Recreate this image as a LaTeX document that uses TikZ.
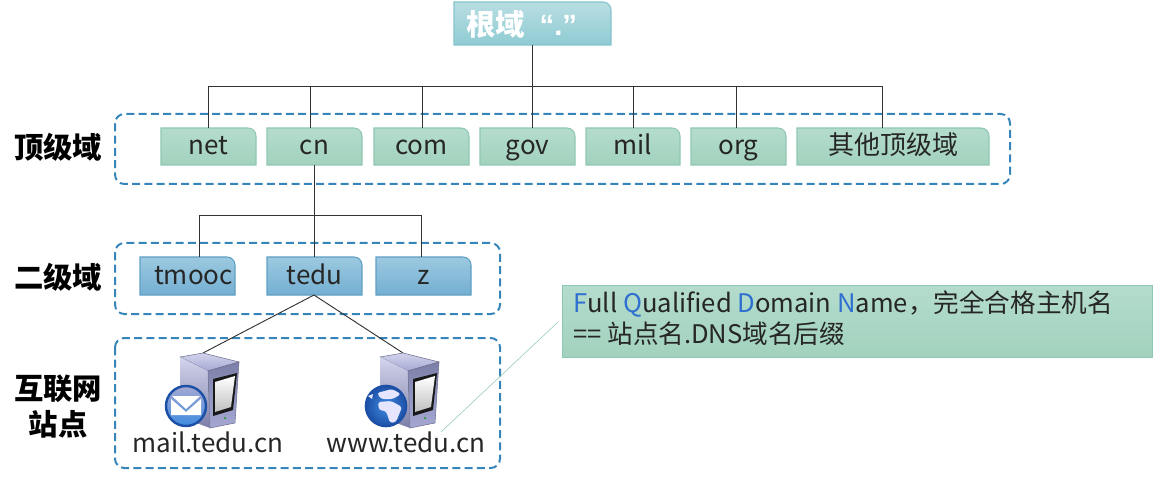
\documentclass[tikz,border=0pt]{standalone}
\usepackage{fontspec}
\setmainfont{Noto Sans CJK SC}
\newfontfamily\quotefont{Liberation Sans}
\usetikzlibrary{positioning,calc}

\definecolor{dashblue}{HTML}{3585BA}
\definecolor{tldtop}{HTML}{B4DCCD}
\definecolor{tldbot}{HTML}{A2D2BE}
\definecolor{tldline}{HTML}{8FC8B2}
\definecolor{sldtop}{HTML}{9CC9E0}
\definecolor{sldbot}{HTML}{74AFD2}
\definecolor{sldline}{HTML}{5F9FC4}
\definecolor{roottop}{HTML}{B8DEE2}
\definecolor{rootbot}{HTML}{8FCBD3}
\definecolor{rootline}{HTML}{84C4CC}
\definecolor{inkblue}{HTML}{2F6FD0}
\definecolor{srvlight}{HTML}{D3D5EC}
\definecolor{srvmid}{HTML}{A5A8D2}
\definecolor{srvdark}{HTML}{7C7FA8}
\definecolor{srvedge}{HTML}{6E7090}
\definecolor{badgeout}{HTML}{1C4FA6}
\definecolor{badgein}{HTML}{3F8BE0}

\tikzset{
	tldbox/.style={draw=tldline,top color=tldtop,bottom color=tldbot,thick},
	sldbox/.style={draw=sldline,top color=sldtop,bottom color=sldbot,thick},
	rootbox/.style={draw=rootline,top color=roottop,bottom color=rootbot,thick},
	zonebox/.style={draw=dashblue,line width=1.5pt,dash pattern=on 6pt off 3.2pt,rounded corners=7pt},
	treeline/.style={draw=black!80,line width=.7pt},
	boxtext/.style={font=\fontsize{19.5}{21}\selectfont,text=black!85,text height=15.5pt,text depth=3.5pt,inner sep=0pt},
	levellabel/.style={font=\fontsize{22}{27}\bfseries\selectfont,align=center,inner sep=0pt},
	hostlabel/.style={font=\fontsize{19.5}{21}\selectfont,text=black!85,inner sep=0pt},
	serverpic/.pic={
		\path[top color=srvlight,bottom color=srvmid,draw=srvedge] (180,357) -- (203,353) -- (239,362) -- (208,371) -- cycle;
		\path[top color=srvlight,bottom color=srvdark] (180,357) -- (208,371) -- (210,428) -- (180,417) -- cycle;
		\path[top color=srvdark,bottom color=srvmid,draw=srvedge] (208,371) -- (239,362) -- (235,423) -- (210,428) -- cycle;
		\fill[black!90] (213,379) -- (237,373) -- (233,410) -- (213,416) -- cycle;
		\path[top color=white,bottom color=black!25] (215,382) -- (235,376) -- (231,407) -- (215,412) -- cycle;
		\fill[green!60!black] (225,418) circle [radius=1];
	},
	mailbadge/.pic={
		\path[top color=srvmid,bottom color=badgein,draw=badgeout,line width=1.8pt] (186,406) circle [radius=20];
		\fill[white] (172,396) -- (200,396) -- (186,409) -- cycle;
		\fill[white] (171,399) -- (186,412) -- (201,399) -- (201,415) -- (171,415) -- cycle;
	},
	globebadge/.pic={
		\path[inner color=badgein,outer color=badgeout,draw=badgeout,line width=1.2pt] (386,406) circle [radius=20.5];
		\fill[white!90!blue,rounded corners=2pt] (377,393) -- (392,389) -- (401,394) -- (393,399) -- (381,399) -- cycle;
		\fill[white!90!blue,rounded corners=2pt] (378,402) -- (391,401) -- (402,407) -- (396,422) -- (390,423) -- (386,411) -- (379,410) -- cycle;
		\fill[white!90!blue] (368,396) -- (373,394) -- (372,399) -- cycle;
	}
}

% box with one rounded corner, the node on top of it carries the name and the text
\newcommand{\domainbox}[7]{
	\path[#1] (#3,#6) -- (#3,#5) [rounded corners=6pt] -- (#4,#5) [sharp corners] -- (#4,#6) -- cycle;
	\node [boxtext,minimum width={(#4-#3)*0.75pt},minimum height={(#6-#5)*0.75pt}] at ({(#3+#4)/2},{(#5+#6)/2}) (#2) {#7};
}

\begin{document}
\begin{tikzpicture}[x=.75pt,y=-.75pt]

\useasboundingbox (0,0) rectangle (1175,481);

%%%%%%%%%%%%%%%% dashed zones

\draw [zonebox] (115,114) rectangle (1010,184);
\draw [zonebox] (115,243) rectangle (500,314);
\draw [zonebox] (115,338) rectangle (500,468);

\node [levellabel] at (58,147) (toplabel) {顶级域};
\node [levellabel] at (58,277) (seclabel) {二级域};
\node [levellabel] at (58,407) (sitelabel) {互联网\\站点};

%%%%%%%%%%%%%%%% boxes

\domainbox{rootbox}{root}{454}{611}{2}{45}{}
\node [font=\fontsize{22}{24}\bfseries\selectfont,text=white,inner sep=0pt,anchor=west] at (466,24) (roottext) {根域\hspace{11pt}{\quotefont\bfseries “.”}};

\foreach \name/\xa/\xb/\txt in {net/161/256/net,cn/267/362/cn,com/374/469/com,gov/480/575/gov,mil/586/680/mil,org/691/786/org,other/797/989/其他顶级域} {
	\domainbox{tldbox}{\name}{\xa}{\xb}{128}{165}{\txt}
}

\foreach \name/\xa/\xb/\txt in {tmooc/140/235/\hspace*{9pt}tmooc,tedu/267/362/tedu,z/376/471/z} {
	\domainbox{sldbox}{\name}{\xa}{\xb}{257}{295}{\txt}
}

%%%%%%%%%%%%%%%% tree lines

\coordinate (rootbus) at (532,86);
\draw [treeline] (root.south -| rootbus) -- (rootbus);
\coordinate (netdrop) at (208,128);
\coordinate (cndrop) at (310,128);
\coordinate (comdrop) at (422,128);
\coordinate (govdrop) at (532,128);
\coordinate (mildrop) at (633,128);
\coordinate (orgdrop) at (736,128);
\coordinate (otherdrop) at (882,128);
\draw [treeline] (netdrop) |- (rootbus);
\draw [treeline] (otherdrop) |- (rootbus);
\foreach \x in {cn,com,gov,mil,org} {
	\draw [treeline] (\x drop) -- (\x drop |- rootbus);
}

\coordinate (cnbus) at (314,215);
\coordinate (tedutop) at (314,257);
\coordinate (cnstem) at (314,165);
\coordinate (tmoocdrop) at (199,257);
\coordinate (zdrop) at (421,257);
\draw [treeline] (cnstem) -- (tedutop);
\draw [treeline] (tmoocdrop) |- (cnbus);
\draw [treeline] (zdrop) |- (cnbus);

%%%%%%%%%%%%%%%% servers

\coordinate (mailtop) at (203,353);
\coordinate (wwwtop) at (403,353);
\coordinate (tedufoot) at (314,295);
\draw [treeline] (tedufoot) -- (mailtop);
\draw [treeline] (tedufoot) -- (wwwtop);

\pic at (0,0) {serverpic};
\pic at (200,0) {serverpic};
\pic at (0,0) {mailbadge};
\pic at (0,0) {globebadge};

\node [hostlabel] at (208,442) (mail) {mail.tedu.cn};
\node [hostlabel] at (406,442) (www) {www.tedu.cn};

%%%%%%%%%%%%%%%% note

\path [draw=tldline,top color=tldtop,bottom color=tldbot] (562,285) rectangle (1152,357);
\node [hostlabel,anchor=north west,align=left,font=\fontsize{19.2}{23.5}\selectfont] at (573,290) (fqdn) {\textcolor{inkblue}{F}ull \textcolor{inkblue}{Q}ualified \textcolor{inkblue}{D}omain \textcolor{inkblue}{N}ame，完全合格主机名\\== 站点名.DNS域名后缀};
\coordinate (noteleft) at (558,322);
\coordinate (leaderend) at (441,432);
\draw [tldline] (noteleft) -- (leaderend);

\end{tikzpicture}
\end{document}
